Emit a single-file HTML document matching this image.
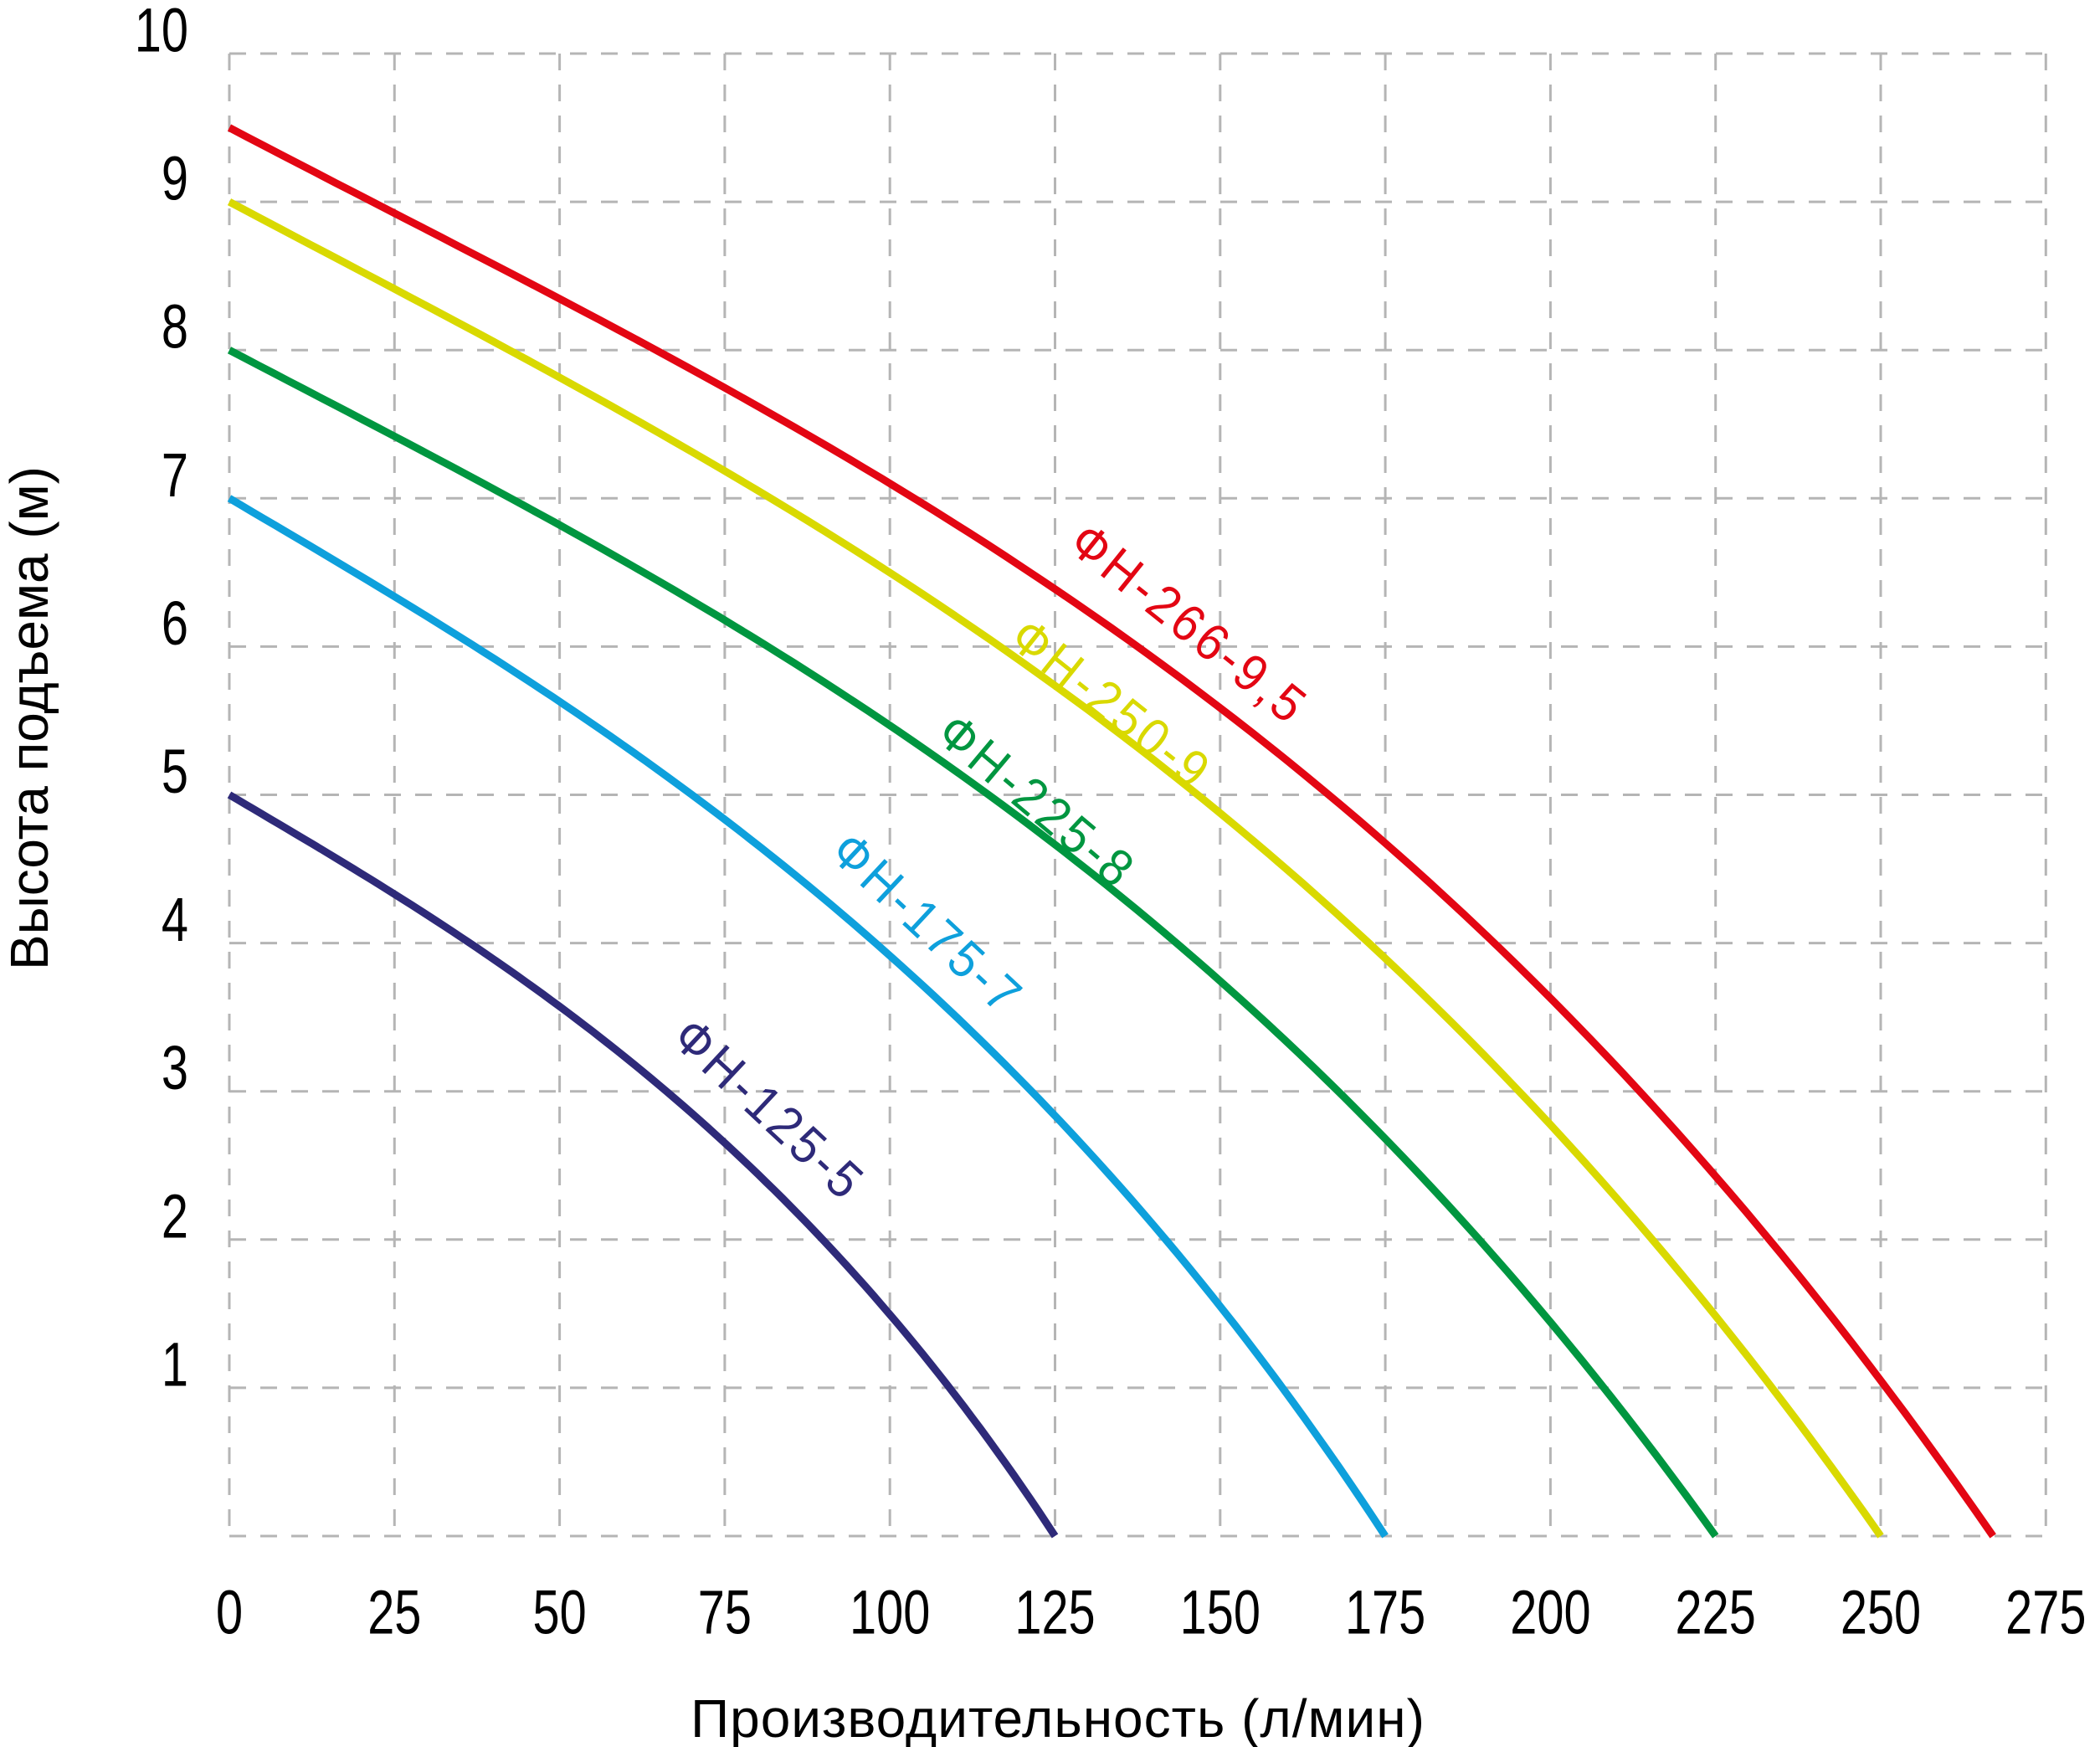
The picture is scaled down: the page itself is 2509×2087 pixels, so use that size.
<!DOCTYPE html>
<html><head><meta charset="utf-8"><style>
html,body{margin:0;padding:0;background:#fff}
svg{display:block}
text{font-family:"Liberation Sans",sans-serif;fill:#000}
</style></head><body>
<svg id="s" width="2509" height="2087" viewBox="0 0 2509 2087" xmlns="http://www.w3.org/2000/svg">
<g id="grid" stroke="#b5b5b5" stroke-width="3" stroke-dasharray="20 17" fill="none"></g>
<g id="curves" fill="none" stroke-width="9" stroke-linecap="butt"></g>
<g id="ticks" font-size="74"></g>
<g font-size="62" letter-spacing="5">
<text transform="translate(1418,749) rotate(38.7) scale(0.92,1)" text-anchor="middle" dominant-baseline="middle" style="fill:#e30613">ФН-266-9,5</text>
<text transform="translate(1325,845) rotate(38.6) scale(0.92,1)" text-anchor="middle" dominant-baseline="middle" style="fill:#d9d900">ФН-250-9</text>
<text transform="translate(1236,961) rotate(40) scale(0.92,1)" text-anchor="middle" dominant-baseline="middle" style="fill:#009640">ФН-225-8</text>
<text transform="translate(1105,1107) rotate(43) scale(0.92,1)" text-anchor="middle" dominant-baseline="middle" style="fill:#0ea0dc">ФН-175-7</text>
<text transform="translate(916,1329) rotate(43) scale(0.92,1)" text-anchor="middle" dominant-baseline="middle" style="fill:#2e2a79">ФН-125-5</text>
</g>
<text transform="translate(1264,2058) scale(1.0,1)" font-size="64" letter-spacing="1" text-anchor="middle" dominant-baseline="middle">Производительность (л/мин)</text>
<text transform="translate(40,858) rotate(-90) scale(1.0,1)" font-size="64" text-anchor="middle" dominant-baseline="middle">Высота подъема (м)</text>
</svg>
<script>
var NS="http://www.w3.org/2000/svg";
function X(q){return 274+q*7.892;}
function Y(h){return 1835-h*177.1;}
function el(p,tag,a,txt){var e=document.createElementNS(NS,tag);for(var k in a)e.setAttribute(k,a[k]);if(txt!==undefined)e.textContent=txt;p.appendChild(e);return e;}
var g=document.getElementById('grid');
for(var i=0;i<=11;i++){var x=X(i*25);el(g,'line',{x1:x,y1:Y(10),x2:x,y2:Y(0)});}
for(var j=0;j<=10;j++){var y=Y(j);el(g,'line',{x1:X(0),y1:y,x2:X(275),y2:y});}
var t=document.getElementById('ticks');
for(var i=0;i<=11;i++){el(t,'text',{transform:'translate('+X(i*25)+',1932) scale(0.78,1)','text-anchor':'middle','dominant-baseline':'middle'},String(i*25));}
for(var j=1;j<=10;j++){el(t,'text',{transform:'translate(225,'+(Y(j)-22)+') scale(0.78,1)','text-anchor':'end','dominant-baseline':'middle'},String(j));}
var c=document.getElementById('curves');
var S=[[9.5,267,'#e30613',0],[9,250,'#d9d900',0.015],[8,225,'#009640',0.02],[7,175,'#0ea0dc',0.035],[5,125,'#2e2a79',0.035]];
S.forEach(function(s){var d='';for(var k=0;k<=100;k++){var tt=k/100;var f=0.656*tt-0.127*tt*tt+0.471*tt*tt*tt;f+=s[3]*Math.sin(Math.PI*tt)*tt;var h=s[0]*(1-f);d+=(k?'L':'M')+X(tt*s[1]).toFixed(1)+' '+Y(h).toFixed(1);}el(c,'path',{d:d,stroke:s[2]});});
</script>
</body></html>
